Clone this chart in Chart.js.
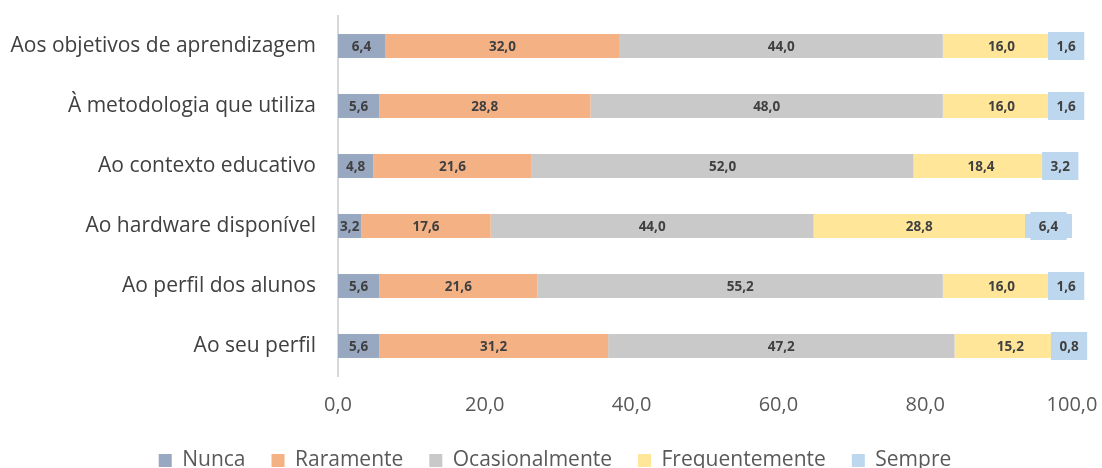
<!DOCTYPE html>
<html>
<head>
<meta charset="utf-8">
<script src="https://cdn.jsdelivr.net/npm/chart.js@4/dist/chart.umd.min.js"></script>
<style>
  html, body { margin: 0; padding: 0; background: #fff; overflow: hidden; }
  #wrap { width: 1102px; height: 468px; overflow: hidden; }
</style>
</head>
<body>
<div id="wrap"><canvas id="chart" width="1102" height="481"></canvas></div>
<script>
// categories, top to bottom
const categories = [
  "Aos objetivos de aprendizagem",
  "À metodologia que utiliza",
  "Ao contexto educativo",
  "Ao hardware disponível",
  "Ao perfil dos alunos",
  "Ao seu perfil"
];

// percentages per answer
const nunca = [6.4, 5.6, 4.8, 3.2, 5.6, 5.6];
const raramente = [32.0, 28.8, 21.6, 17.6, 21.6, 31.2];
const ocasionalmente = [44.0, 48.0, 52.0, 44.0, 55.2, 47.2];
const frequentemente = [16.0, 16.0, 18.4, 28.8, 16.0, 15.2];
const sempre = [1.6, 1.6, 3.2, 6.4, 1.6, 0.8];

const xTicks = [0, 20, 40, 60, 80, 100];

const FONT = "'Open Sans', Lato, sans-serif";
const fmt = (v) => v.toFixed(1).replace(".", ",");

// value labels drawn in the middle of each segment; "Sempre" gets a filled box
const segmentLabels = {
  id: "segmentLabels",
  afterDatasetsDraw(chart) {
    const ctx = chart.ctx;
    ctx.save();
    ctx.font = "bold 13.5px " + FONT;
    ctx.textAlign = "center";
    ctx.textBaseline = "middle";
    chart.data.datasets.forEach((ds, i) => {
      const meta = chart.getDatasetMeta(i);
      meta.data.forEach((bar, j) => {
        const text = fmt(ds.data[j]);
        const cx = (bar.x + bar.base) / 2;
        const cy = bar.y;
        if (ds.labelBox) {
          const w = ctx.measureText(text).width + 17;
          const h = bar.height + 4;
          ctx.fillStyle = ds.backgroundColor;
          ctx.fillRect(cx - w / 2, cy - h / 2, w, h);
        }
        ctx.fillStyle = "#404040";
        ctx.fillText(text, cx, cy + 1);
      });
    });
    ctx.restore();
  }
};

const ctx = document.getElementById("chart").getContext("2d");
new Chart(ctx, {
  type: "bar",
  data: {
    labels: categories,
    datasets: [
      { label: "Nunca", data: nunca, backgroundColor: "#97a8c0" },
      { label: "Raramente", data: raramente, backgroundColor: "#f4b183" },
      { label: "Ocasionalmente", data: ocasionalmente, backgroundColor: "#c9c9c9" },
      { label: "Frequentemente", data: frequentemente, backgroundColor: "#ffe699" },
      { label: "Sempre", data: sempre, backgroundColor: "#bdd7ee", labelBox: true }
    ]
  },
  options: {
    indexAxis: "y",
    responsive: false,
    animation: false,
    layout: { padding: { top: 16, left: 8, right: 0, bottom: 0 } },
    datasets: {
      bar: { barPercentage: 0.4, categoryPercentage: 1.0, borderWidth: 0 }
    },
    scales: {
      x: {
        stacked: true,
        min: 0,
        max: 100,
        afterBuildTicks(scale) {
          scale.ticks = xTicks.map((v) => ({ value: v }));
        },
        afterFit(scale) {
          scale.height = 48;
          scale.paddingLeft = 0;
          scale.paddingRight = 30;
        },
        grid: { display: false, drawTicks: false },
        border: { display: false },
        ticks: {
          padding: 17,
          color: "#595959",
          font: { family: FONT, size: 20 },
          callback: (v) => fmt(v)
        }
      },
      y: {
        stacked: true,
        afterFit(scale) {
          scale.width = 330;
          scale.paddingTop = 0;
          scale.paddingBottom = 0;
        },
        grid: { display: false, drawTicks: false },
        border: { display: true, color: "#d9d9d9", width: 2 },
        ticks: {
          padding: 22,
          color: "#404040",
          font: { family: FONT, size: 21 }
        }
      }
    },
    plugins: {
      tooltip: { enabled: false },
      legend: {
        position: "bottom",
        labels: {
          boxWidth: 13,
          boxHeight: 13,
          padding: 26,
          color: "#595959",
          font: { family: FONT, size: 21 }
        }
      }
    }
  },
  plugins: [segmentLabels]
});
</script>
</body>
</html>
